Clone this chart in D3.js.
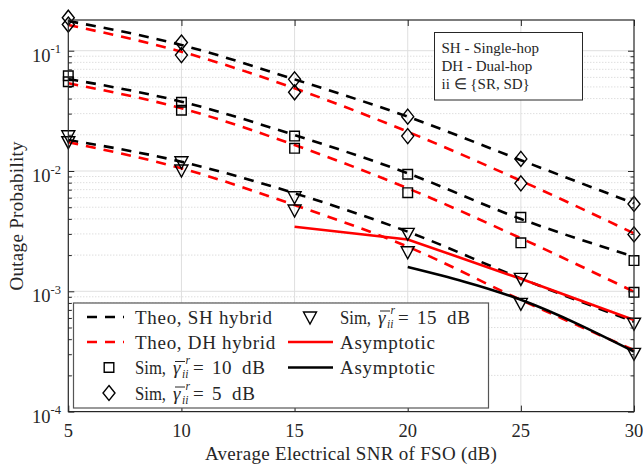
<!DOCTYPE html>
<html><head><meta charset="utf-8">
<script src="https://cdn.jsdelivr.net/npm/d3@7"></script>
<style>body{margin:0;background:#fff}svg{display:block}text{font-family:"Liberation Serif","Times New Roman",serif;fill:#262626;white-space:pre}</style>
</head><body><svg id="c" width="643" height="467"></svg>
<script>
// ---- data ----
const snr = [5, 10, 15, 20, 25, 30];
const xTicks = [5, 10, 15, 20, 25, 30];
const yTickExps = [-4, -3, -2, -1];
// theoretical curves
const theoSH5  = [0.1766, 0.1115, 0.0578, 0.0283, 0.0123, 0.00539];
const theoDH5  = [0.1637, 0.0981, 0.0487, 0.0212, 0.0083, 0.00303];
const theoSH10 = [0.0582, 0.0377, 0.0199, 0.00957, 0.00399, 0.00194];
const theoDH10 = [0.0536, 0.0332, 0.01644, 0.00718, 0.00276, 0.000993];
const theoSH15 = [0.0181, 0.01194, 0.00653, 0.00313, 0.00128, 0.000558];
const theoDH15 = [0.01733, 0.01052, 0.00521, 0.00235, 0.000848, 0.000325];
// simulation points
const simSH5  = [0.188, 0.117, 0.0578, 0.0283, 0.0126, 0.00532];
const simDH5  = [0.165, 0.092, 0.0451, 0.0195, 0.0079, 0.00297];
const simSH10 = [0.0619, 0.0373, 0.0195, 0.0094, 0.00412, 0.00180];
const simDH10 = [0.0552, 0.0320, 0.01544, 0.0066, 0.00253, 0.00098];
const simSH15 = [0.01963, 0.01194, 0.00611, 0.00303, 0.00128, 0.000542];
const simDH15 = [0.01753, 0.01019, 0.00474, 0.00213, 0.000794, 0.000305];
// asymptotes
const asymRedX = [15, 20, 25, 30];
const asymRed  = [0.00344, 0.00270, 0.00127, 0.000577];
const asymBlackX = [20, 25, 30];
const asymBlack  = [0.00159, 0.00085, 0.000315];
const legendLabels = ["Theo, SH hybrid", "Theo, DH hybrid", "10", "5", "15", "Asymptotic", "Asymptotic"];
const noteLines = ["SH - Single-hop", "DH - Dual-hop", "ii \u2208 {SR, SD}"];
const xLabel = "Average Electrical SNR of FSO (dB)";
const yLabel = "Outage Probability";

// ---- layout ----
const L = 68.3, R = 634, T = 20, B = 411.6;
const svg = d3.select("#c");
const x = d3.scaleLinear().domain([5, 30]).range([L, R]);
const y = d3.scaleLog().domain([1e-4, 0.18]).range([B, T]);
const axisCol = "#262626";

// grid
const g = svg.append("g");
const minorVals = [];
for (let e = -4; e <= -1; e++) for (let m = 2; m <= 9; m++) { const v = m * Math.pow(10, e); if (v <= 0.18) minorVals.push(v); }
g.selectAll(".ymin").data(minorVals).join("line")
  .attr("x1", L).attr("x2", R).attr("y1", d => y(d)).attr("y2", d => y(d))
  .attr("stroke", "#c4c4c4").attr("stroke-width", 0.8).attr("stroke-dasharray", "1,2");
g.selectAll(".ymaj").data(yTickExps.map(e => Math.pow(10, e))).join("line")
  .attr("x1", L).attr("x2", R).attr("y1", d => y(d)).attr("y2", d => y(d))
  .attr("stroke", "#dfdfdf").attr("stroke-width", 1);
g.selectAll(".xg").data(xTicks.slice(1, -1)).join("line")
  .attr("x1", d => x(d)).attr("x2", d => x(d)).attr("y1", T).attr("y2", B)
  .attr("stroke", "#dfdfdf").attr("stroke-width", 1);

// lines
const line = d3.line().x(d => x(d[0])).y(d => y(d[1])).curve(d3.curveMonotoneX);
const lineLin = d3.line().x(d => x(d[0])).y(d => y(d[1]));
const zip = (xs, ys) => xs.map((v, i) => [v, ys[i]]);
const theo = [[theoSH5, "#000"], [theoDH5, "#f00"], [theoSH10, "#000"], [theoDH10, "#f00"], [theoSH15, "#000"], [theoDH15, "#f00"]];
const lg = svg.append("g");
theo.forEach(([vals, col]) => {
  lg.append("path").attr("d", line(zip(snr, vals))).attr("fill", "none")
    .attr("stroke", col).attr("stroke-width", 2.6).attr("stroke-dasharray", "10,8");
});
lg.append("path").attr("d", lineLin(zip(asymRedX, asymRed))).attr("fill", "none").attr("stroke", "#f00").attr("stroke-width", 2.6);
lg.append("path").attr("d", line(zip(asymBlackX, asymBlack))).attr("fill", "none").attr("stroke", "#000").attr("stroke-width", 2.6);

// markers
function marker(sel, type, cx, cy) {
  let p;
  if (type === "diamond") p = `M${cx},${cy-7.5}L${cx+6},${cy}L${cx},${cy+7.5}L${cx-6},${cy}Z`;
  else if (type === "square") p = `M${cx-4.8},${cy-4.8}h9.6v9.6h-9.6Z`;
  else p = `M${cx-6.5},${cy-5}L${cx+6.5},${cy-5}L${cx},${cy+7}Z`;
  sel.append("path").attr("d", p).attr("fill", "none").attr("stroke", "#000").attr("stroke-width", 1.4);
}
const mg = svg.append("g");
[[simSH5, "diamond"], [simDH5, "diamond"], [simSH10, "square"], [simDH10, "square"], [simSH15, "tri"], [simDH15, "tri"]]
  .forEach(([vals, t]) => vals.forEach((v, i) => marker(mg, t, x(snr[i]), y(v))));

// axes frame + ticks
const ag = svg.append("g");
ag.append("rect").attr("x", L).attr("y", T).attr("width", R - L).attr("height", B - T)
  .attr("fill", "none").attr("stroke", axisCol).attr("stroke-width", 1.2);
const xAxB = d3.axisBottom(x).tickValues(xTicks).tickSize(-6).tickFormat("");
const xAxT = d3.axisTop(x).tickValues(xTicks).tickSize(-6).tickFormat("");
const yAxL = d3.axisLeft(y).tickValues(yTickExps.map(e => Math.pow(10, e))).tickSize(-6).tickFormat("");
const yAxR = d3.axisRight(y).tickValues(yTickExps.map(e => Math.pow(10, e))).tickSize(-6).tickFormat("");
const yAxLm = d3.axisLeft(y).tickValues(minorVals).tickSize(-3.5).tickFormat("");
const yAxRm = d3.axisRight(y).tickValues(minorVals).tickSize(-3.5).tickFormat("");
[[xAxB, `translate(0,${B})`], [xAxT, `translate(0,${T})`], [yAxL, `translate(${L},0)`], [yAxR, `translate(${R},0)`], [yAxLm, `translate(${L},0)`], [yAxRm, `translate(${R},0)`]]
  .forEach(([ax, tr]) => {
    const s = ag.append("g").attr("transform", tr).call(ax);
    s.select(".domain").remove();
    s.selectAll("line").attr("stroke", axisCol).attr("stroke-width", 1);
  });

// tick labels
ag.selectAll(".xl").data(xTicks).join("text").attr("x", d => x(d)).attr("y", 437)
  .attr("text-anchor", "middle").attr("font-size", 18.5).text(d => d);
yTickExps.forEach(e => {
  const t = ag.append("text").attr("x", 61).attr("y", y(Math.pow(10, e)) + 11).attr("text-anchor", "end").attr("font-size", 18.5);
  t.append("tspan").text("10");
  t.append("tspan").attr("font-size", 12.5).attr("dy", -8.5).text(String(e));
});
svg.append("text").attr("x", 351).attr("y", 460).attr("text-anchor", "middle").attr("font-size", 19).attr("letter-spacing", 0.3).text(xLabel);
svg.append("text").attr("transform", `translate(23,${(T + B) / 2}) rotate(-90)`).attr("text-anchor", "middle").attr("font-size", 19).attr("letter-spacing", 0.3).text(yLabel);

// note box
const nb = svg.append("g");
nb.append("rect").attr("x", 434.5).attr("y", 32.5).attr("width", 148).attr("height", 67.5).attr("fill", "#fff").attr("stroke", axisCol).attr("stroke-width", 1);
noteLines.forEach((s, i) => nb.append("text").attr("x", 441.5).attr("y", 53 + i * 17.8).attr("font-size", 15).text(s));

// legend
const leg = svg.append("g");
leg.append("rect").attr("x", 73.5).attr("y", 303).attr("width", 415).attr("height", 105).attr("fill", "#fff").attr("stroke", "#555").attr("stroke-width", 1.2);
const rows = [317, 342, 367.5, 393];
const fs = 19, ls = 0.7;
function plainLabel(xp, yy, s) {
  leg.append("text").attr("x", xp).attr("y", yy + 6.5).attr("font-size", fs).attr("letter-spacing", ls).text(s);
}
function gammaLabel(xp, yy, val) {
  const b = yy + 6.5;
  leg.append("text").attr("x", xp).attr("y", b).attr("font-size", fs)
    .attr("textLength", 31).attr("lengthAdjust", "spacingAndGlyphs").text("Sim,");
  leg.append("text").attr("x", xp + 38).attr("y", b).attr("font-size", fs).attr("font-style", "italic").text("\u03B3");
  leg.append("line").attr("x1", xp + 40).attr("x2", xp + 50).attr("y1", b - 12.5).attr("y2", b - 12.5).attr("stroke", "#262626").attr("stroke-width", 1);
  leg.append("text").attr("x", xp + 50.5).attr("y", b - 10).attr("font-size", 11.5).attr("font-style", "italic").text("r");
  leg.append("text").attr("x", xp + 47).attr("y", b + 4).attr("font-size", 11.5).attr("font-style", "italic").text("ii");
  leg.append("text").attr("x", xp + 58).attr("y", b).attr("font-size", fs).text("=");
  const tv = leg.append("text").attr("x", xp + 77).attr("y", b).attr("font-size", fs).attr("letter-spacing", 0.5).text(val);
  const w = tv.node().getComputedTextLength();
  leg.append("text").attr("x", xp + 77 + w + 10).attr("y", b).attr("font-size", fs).attr("letter-spacing", 0.8).text("dB");
}
// column 1
leg.append("line").attr("x1", 87).attr("x2", 124).attr("y1", rows[0]).attr("y2", rows[0]).attr("stroke", "#000").attr("stroke-width", 2.6).attr("stroke-dasharray", "10,8");
plainLabel(135, rows[0], legendLabels[0]);
leg.append("line").attr("x1", 87).attr("x2", 124).attr("y1", rows[1]).attr("y2", rows[1]).attr("stroke", "#f00").attr("stroke-width", 2.6).attr("stroke-dasharray", "10,8");
plainLabel(135, rows[1], legendLabels[1]);
marker(leg, "square", 109, rows[2]);
gammaLabel(135, rows[2], legendLabels[2]);
marker(leg, "diamond", 109, rows[3]);
gammaLabel(135, rows[3], legendLabels[3]);
// column 2
marker(leg, "tri", 310, rows[0]);
gammaLabel(340, rows[0], legendLabels[4]);
leg.append("line").attr("x1", 288).attr("x2", 333).attr("y1", rows[1]).attr("y2", rows[1]).attr("stroke", "#f00").attr("stroke-width", 2.6);
plainLabel(340, rows[1], legendLabels[5]);
leg.append("line").attr("x1", 288).attr("x2", 333).attr("y1", rows[2]).attr("y2", rows[2]).attr("stroke", "#000").attr("stroke-width", 2.6);
plainLabel(340, rows[2], legendLabels[6]);
</script></body></html>
